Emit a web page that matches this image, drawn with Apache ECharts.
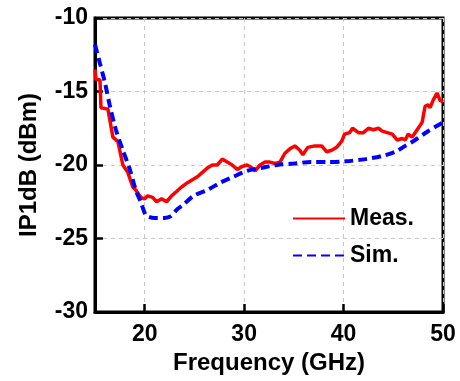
<!DOCTYPE html>
<html><head><meta charset="utf-8">
<script src="https://cdn.jsdelivr.net/npm/echarts@6/dist/echarts.min.js"></script>
<style>html,body{margin:0;padding:0;background:#fff}#c{width:460px;height:381px}</style>
</head><body><div id="c"></div>
<script>
const measFreq = [15.0,15.1,15.5,15.6,16.3,16.8,17.3,17.8,18.3,18.8,19.1,19.6,20.0,20.3,20.8,21.2,21.7,22.2,22.7,23.2,23.7,24.3,24.8,25.3,25.8,26.3,26.8,27.3,27.8,28.3,28.8,29.3,29.8,30.3,30.6,31.1,31.6,32.1,32.6,33.1,33.6,34.1,34.6,35.1,35.6,35.9,36.4,37.1,37.8,38.3,38.8,39.3,39.8,40.1,40.6,40.9,41.5,42.0,42.5,43.0,43.5,43.9,44.4,44.9,45.4,45.9,46.2,46.5,46.9,47.4,47.9,48.2,48.5,48.7,49.0,49.4,49.7,50.0];
const measValues = [-13.5,-14.2,-14.2,-16.1,-16.2,-18.1,-18.4,-20.0,-20.5,-21.5,-21.7,-22.2,-22.3,-22.1,-22.2,-22.5,-22.3,-22.5,-22.1,-21.8,-21.5,-21.2,-21.0,-20.8,-20.5,-20.2,-20.0,-20.0,-19.6,-19.8,-20.0,-20.3,-20.1,-20.0,-20.1,-20.4,-20.0,-19.8,-19.8,-19.9,-19.8,-19.2,-18.9,-18.7,-19.0,-19.3,-18.8,-18.7,-18.7,-19.1,-19.0,-18.8,-18.4,-17.9,-17.8,-17.5,-17.8,-17.8,-17.5,-17.6,-17.5,-17.7,-17.8,-17.9,-18.3,-18.2,-18.3,-17.9,-18.1,-17.6,-17.1,-16.0,-15.9,-16.1,-15.6,-15.1,-15.6,-15.7];
const simFreq = [15.0,15.5,16.0,16.5,17.1,17.8,18.5,19.1,19.6,20.1,20.5,21.0,22.0,22.6,23.3,23.9,24.9,26.3,27.6,28.9,30.3,31.7,33.3,35.0,36.7,38.3,40.2,42.2,43.8,45.2,46.2,47.2,48.5,50.0];
const simValues = [-11.8,-13.1,-14.4,-16.0,-17.6,-19.0,-20.3,-21.7,-22.5,-23.4,-23.55,-23.6,-23.6,-23.5,-23.0,-22.7,-22.1,-21.7,-21.2,-20.8,-20.4,-20.2,-20.0,-19.9,-19.8,-19.8,-19.75,-19.6,-19.4,-19.1,-18.7,-18.3,-17.7,-17.1];
const xTicks = [20,30,40,50];
const seriesNames = ['Meas.','Sim.'];

const zip = (a,b) => a.map((v,i)=>[v,b[i]]);
const font = '"Liberation Sans", Arial, sans-serif';
const chart = echarts.init(document.getElementById('c'));
chart.setOption({
  animation:false,
  grid:{left:95,right:17,top:18,bottom:69,show:true,borderColor:'#000',borderWidth:3,backgroundColor:'transparent'},
  legend:{
    data:seriesNames, orient:'vertical', left:287, top:202, itemWidth:52, itemHeight:24, itemGap:14,
    itemStyle:{opacity:0},
    textStyle:{fontFamily:font,fontWeight:'bold',fontSize:23,color:'#000'}
  },
  xAxis:{
    type:'value', min:15, max:50,
    name:'Frequency (GHz)', nameLocation:'middle', nameGap:31,
    nameTextStyle:{fontFamily:font,fontWeight:'bold',fontSize:24,color:'#000'},
    axisLine:{lineStyle:{color:'#000',width:3}},
    axisTick:{inside:true,length:8,lineStyle:{color:'#000',width:2.5},customValues:xTicks},
    axisLabel:{customValues:xTicks,margin:11,fontFamily:font,fontWeight:'bold',fontSize:23,color:'#000'},
    splitLine:{show:true,lineStyle:{color:'#c8c8c8',type:[4,4],width:1}}
  },
  yAxis:{
    type:'value', min:-30, max:-10, interval:5,
    name:'IP1dB (dBm)', nameLocation:'middle', nameGap:54,
    nameTextStyle:{fontFamily:font,fontWeight:'bold',fontSize:24,color:'#000'},
    axisLine:{show:true,lineStyle:{color:'#000',width:3}},
    axisTick:{show:true,inside:true,length:8,lineStyle:{color:'#000',width:2.5}},
    axisLabel:{margin:7,fontFamily:font,fontWeight:'bold',fontSize:23,color:'#000'},
    splitLine:{show:true,lineStyle:{color:'#c8c8c8',type:[4,4],width:1}}
  },
  series:[
    {name:seriesNames[0],type:'line',data:zip(measFreq,measValues),symbol:'none',
     lineStyle:{color:'#ff0000',width:3.5},itemStyle:{color:'#ff0000'}},
    {name:seriesNames[1],type:'line',data:zip(simFreq,simValues),symbol:'none',smooth:0.3,
     lineStyle:{color:'#0000ff',width:4,type:[9,5]},itemStyle:{color:'#0000ff'}}
  ]
});
</script></body></html>
